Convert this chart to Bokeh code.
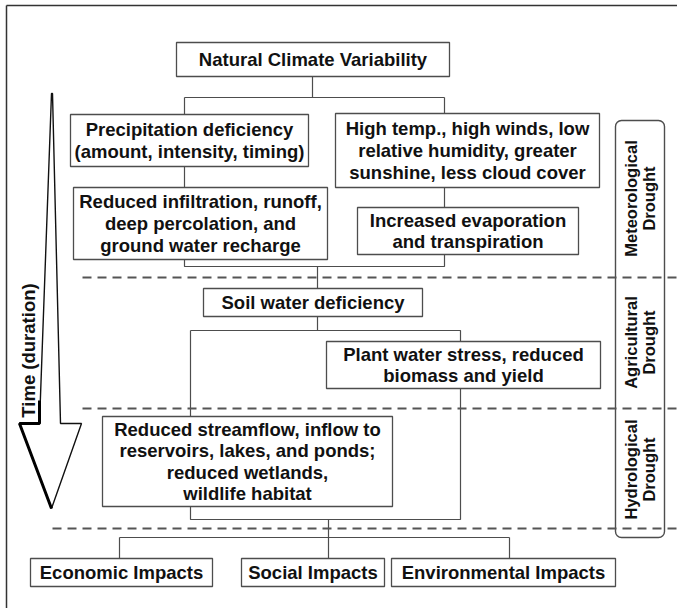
from math import pi
from bokeh.plotting import figure
from bokeh.models import Range1d, BoxAnnotation
from bokeh.core.properties import value
from bokeh.embed import file_html
from bokeh.resources import INLINE

# ---- diagram content (page-pixel layout units) ----
box_labels = [
    "Natural Climate Variability",
    "Precipitation deficiency\n(amount, intensity, timing)",
    "High temp., high winds, low\nrelative humidity, greater\nsunshine, less cloud cover",
    "Reduced infiltration, runoff,\ndeep percolation, and\nground water recharge",
    "Increased evaporation\nand transpiration",
    "Soil water deficiency",
    "Plant water stress, reduced\nbiomass and yield",
    "Reduced streamflow, inflow to\nreservoirs, lakes, and ponds;\nreduced wetlands,\nwildlife habitat",
    "Economic Impacts",
    "Social Impacts",
    "Environmental Impacts",
]
box_x0 = [176, 70, 335, 73, 357, 203, 326, 102, 30, 241, 391]
box_x1 = [449, 308, 599, 327, 578, 422, 600, 392, 212, 384, 615]
box_y0 = [42, 114, 113, 187, 207, 288, 341, 416, 558, 558, 558]
box_y1 = [76, 166, 187, 259, 254, 316, 388, 506, 586, 586, 586]

conn_x = [[312, 312], [184, 444], [184, 184], [444, 444], [184, 184], [444, 444],
          [184, 184, 444, 444], [317, 317], [317, 317],
          [190, 460, 460, 190, 190], [328, 328], [119, 509],
          [119, 119], [328, 328], [509, 509]]
conn_y = [[76, 97], [97, 97], [97, 114], [97, 113], [166, 187], [187, 207],
          [259, 266, 266, 254], [266, 288], [316, 330],
          [330, 330, 519, 519, 330], [519, 537], [537, 537],
          [537, 558], [537, 558], [537, 558]]

dash_y = [277, 408, 528]
dash_x0 = [82, 82, 52]
dash_x1 = [680, 680, 680]

stage_labels = ["Meteorological\nDrought", "Agricultural\nDrought", "Hydrological\nDrought"]
stage_cx = [639, 639, 639]
stage_cy = [198, 342, 469]
stage_box = dict(left=615, right=664, top=120, bottom=537)

arrow_x = [51, 39, 19, 51, 81, 60, 52]
arrow_y = [93, 423, 423, 508, 423, 423, 93]
arrow_label = "Time (duration)"
arrow_label_x = 28
arrow_label_y = 350

FONT = value("Liberation Sans")
TXT = "#111111"
EDGE = "#4d4d4d"

W, H = 677, 608
p = figure(width=W, height=H, x_range=Range1d(0, W), y_range=Range1d(H, 0),
           x_axis_type=None, y_axis_type=None, toolbar_location=None,
           output_backend="svg", min_border=0)
p.grid.visible = False
p.outline_line_color = None
p.background_fill_color = "white"

# outer frame (left and top edges)
p.line([6, 6], [H, 5], line_color="#333333", line_width=1.5)
p.line([6, W], [5, 5], line_color="#333333", line_width=1.5)

# stage box (rounded)
p.add_layout(BoxAnnotation(left=stage_box["left"], right=stage_box["right"],
                           top=stage_box["top"], bottom=stage_box["bottom"],
                           fill_color="white", fill_alpha=1.0, line_color="#4d4d4d",
                           line_alpha=1.0, line_width=1.4, border_radius=6,
                           level="underlay"))

# connectors
p.multi_line(conn_x, conn_y, line_color=EDGE, line_width=1.2)

# dashed stage separators
p.segment(dash_x0, dash_y, dash_x1, dash_y, line_color="#555555", line_width=2.2,
          line_dash="9 6")

# boxes
p.quad(left=box_x0, right=box_x1, top=box_y0, bottom=box_y1,
       fill_color="white", line_color=EDGE, line_width=1.3)

# box texts
LH = 21.6
tx, ty, tt = [], [], []
for lab, a, b, c, d in zip(box_labels, box_x0, box_x1, box_y0, box_y1):
    lines = lab.split("\n")
    n = len(lines)
    for i, ln in enumerate(lines):
        tx.append((a + b) / 2)
        ty.append((c + d) / 2 + (i - (n - 1) / 2) * LH)
        tt.append(ln)
p.text(tx, ty, text=tt, text_font=FONT, text_font_style="bold",
       text_font_size="18.5px", text_color=TXT, text_align="center",
       text_baseline="middle")

# stage labels (rotated)
sx, sy, st = [], [], []
for lab, cx, cy in zip(stage_labels, stage_cx, stage_cy):
    lines = lab.split("\n")
    n = len(lines)
    for i, ln in enumerate(lines):
        sx.append(cx + (i - (n - 1) / 2) * 18)
        sy.append(cy)
        st.append(ln)
p.text(sx, sy, text=st, angle=pi / 2, text_font=FONT, text_font_style="bold",
       text_font_size="16.5px", text_color=TXT, text_align="center",
       text_baseline="middle")

# time arrow
p.patch(arrow_x, arrow_y, fill_color="white", line_color="#111111", line_width=1.4)
p.line([39, 39, 19, 51], [400, 423, 423, 508], line_color="#000000", line_width=3)
p.text([arrow_label_x], [arrow_label_y], text=[arrow_label], angle=pi / 2,
       text_font=FONT, text_font_style="bold", text_font_size="18.5px",
       text_color=TXT, text_align="center", text_baseline="middle")

open("out.html", "w").write(file_html(p, INLINE))
